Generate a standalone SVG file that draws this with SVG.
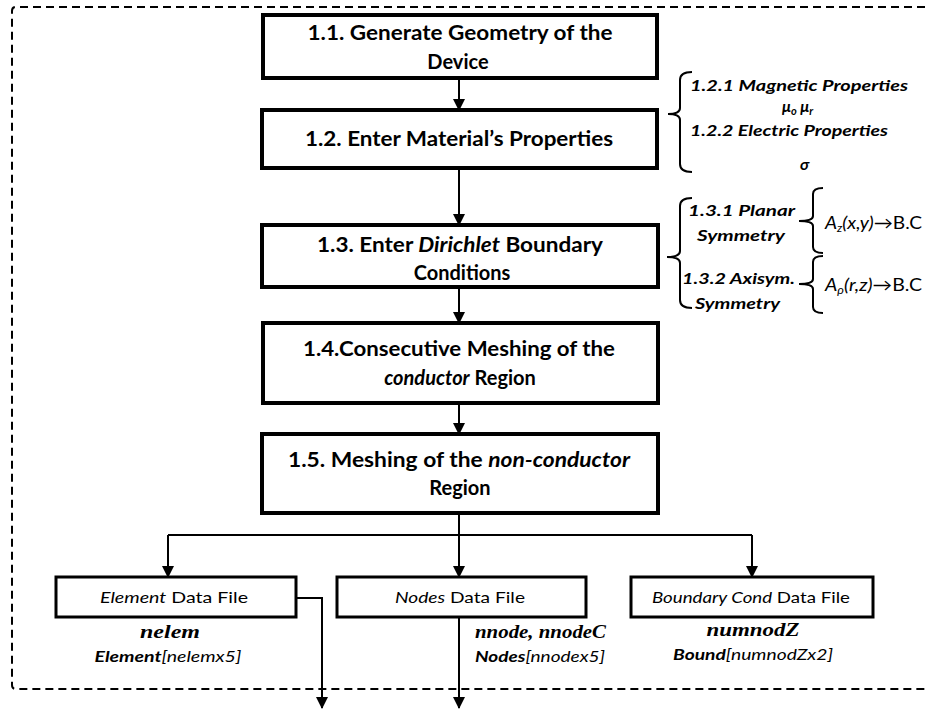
<svg xmlns="http://www.w3.org/2000/svg" width="925" height="711" viewBox="0 0 925 711">
<style>
.bx{fill:#fff;stroke:#000;stroke-width:4}
.sb{fill:#fff;stroke:#000;stroke-width:3}
.ln{fill:none;stroke:#000;stroke-width:2}
.br{fill:none;stroke:#000;stroke-width:2}
.t{font-family:Lato,"Liberation Sans",sans-serif;font-weight:bold;font-size:20px;text-anchor:middle;fill:#000}
.r{font-family:Lato,"Liberation Sans",sans-serif;font-weight:bold;font-style:italic;font-size:16px;fill:#000}
.s{font-family:Lato,"Liberation Sans",sans-serif;font-size:16px;text-anchor:middle;fill:#000}
.m{font-family:"Liberation Serif",serif;font-weight:bold;font-style:italic;font-size:18px;fill:#000}
.e{font-family:Lato,"Liberation Sans",sans-serif;font-size:15px;fill:#000}
.f{font-family:Lato,"Liberation Sans",sans-serif;font-size:17px;fill:#000}
.i{font-style:italic}
.b{font-weight:bold}
</style>
<defs>
<marker id="ah" markerUnits="userSpaceOnUse" markerWidth="12" markerHeight="12" refX="11" refY="6" orient="auto">
<path d="M0,0 L12,6 L0,12 z" fill="#000"/>
</marker>
</defs>
<path id="frame" d="M925,7 L16,7 Q12,7 12,11 L12,685 Q12,689 16,689 L925,689" fill="none" stroke="#000" stroke-width="2" stroke-dasharray="8 5"/>
<g id="connectors">
<path class="ln" d="M459,78 L459,110" marker-end="url(#ah)"/>
<path class="ln" d="M459,168 L459,225" marker-end="url(#ah)"/>
<path class="ln" d="M459,287 L459,323" marker-end="url(#ah)"/>
<path class="ln" d="M459,403 L459,434" marker-end="url(#ah)"/>
<path class="ln" d="M459,513 L459,577" marker-end="url(#ah)"/>
<path class="ln" d="M168,535 L752,535"/>
<path class="ln" d="M168,535 L168,577" marker-end="url(#ah)"/>
<path class="ln" d="M752,535 L752,577" marker-end="url(#ah)"/>
<path class="ln" d="M296,598 L322,598 L322,708" marker-end="url(#ah)"/>
<path class="ln" d="M459,617 L459,708" marker-end="url(#ah)"/>
</g>
<g id="n11">
<rect class="bx" x="263" y="15" width="394" height="63"/>
<text class="t" x="460" y="40" textLength="305" lengthAdjust="spacingAndGlyphs">1.1. Generate Geometry of the</text>
<text class="t" x="458" y="69">Device</text>
</g>
<g id="n12">
<rect class="bx" x="262" y="110" width="395" height="58"/>
<text class="t" x="459" y="146" textLength="308" lengthAdjust="spacingAndGlyphs">1.2. Enter Material’s Properties</text>
</g>
<g id="n13">
<rect class="bx" x="262" y="225" width="396" height="62"/>
<text class="t" x="460" y="252" textLength="286" lengthAdjust="spacingAndGlyphs">1.3. Enter <tspan class="i">Dirichlet</tspan> Boundary</text>
<text class="t" x="462" y="280">Conditions</text>
</g>
<g id="n14">
<rect class="bx" x="263" y="323" width="395" height="80"/>
<text class="t" x="459" y="356" textLength="312" lengthAdjust="spacingAndGlyphs">1.4.Consecutive Meshing of the</text>
<text class="t" x="460" y="385"><tspan class="i">conductor</tspan> Region</text>
</g>
<g id="n15">
<rect class="bx" x="262" y="434" width="396" height="79"/>
<text class="t" x="459" y="467" textLength="342" lengthAdjust="spacingAndGlyphs">1.5. Meshing of the <tspan class="i">non-conductor</tspan></text>
<text class="t" x="460" y="495">Region</text>
</g>
<g id="props">
<path class="br" d="M692,72 Q680,72 680,80 L680,108 Q680,114 668,114 Q680,114 680,120 L680,164 Q680,172 692,172"/>
<text class="r" x="690" y="91" textLength="218" lengthAdjust="spacingAndGlyphs">1.2.1 Magnetic Properties</text>
<text class="r" x="782" y="112">μ<tspan font-size="11" dy="3">o</tspan><tspan dy="-3"> μ</tspan><tspan font-size="11" dy="3">r</tspan></text>
<text class="r" x="690" y="136" textLength="198" lengthAdjust="spacingAndGlyphs">1.2.2 Electric Properties</text>
<text class="r" x="800" y="170">σ</text>
</g>
<g id="bc">
<path class="br" d="M692,198 Q680,198 680,206 L680,251 Q680,257 667,257 Q680,257 680,263 L680,300 Q680,308 692,308"/>
<text class="r" x="688" y="216" textLength="107" lengthAdjust="spacingAndGlyphs">1.3.1 Planar</text>
<text class="r" x="697" y="241" textLength="88" lengthAdjust="spacingAndGlyphs">Symmetry</text>
<text class="r" x="682" y="284" textLength="113" lengthAdjust="spacingAndGlyphs">1.3.2 Axisym.</text>
<text class="r" x="695" y="309" textLength="85" lengthAdjust="spacingAndGlyphs">Symmetry</text>
<path class="br" d="M823,188 Q813,188 813,194 L813,216 Q813,221 799,221 Q813,221 813,226 L813,247 Q813,253 823,253"/>
<path class="br" d="M823,256 Q813,256 813,262 L813,279 Q813,284 799,284 Q813,284 813,289 L813,307 Q813,313 823,313"/>
<text class="f" x="825" y="229" textLength="97" lengthAdjust="spacingAndGlyphs"><tspan class="i">A</tspan><tspan class="i" font-size="11" dy="3">z</tspan><tspan class="i" dy="-3">(x,y)</tspan>→B.C</text>
<text class="f" x="825" y="291" textLength="97" lengthAdjust="spacingAndGlyphs"><tspan class="i">A</tspan><tspan class="i" font-size="11" dy="3">ρ</tspan><tspan class="i" dy="-3">(r,z)</tspan>→B.C</text>
</g>
<g id="element">
<rect class="sb" x="56" y="577" width="240" height="40"/>
<text class="s" x="174" y="603" textLength="148" lengthAdjust="spacingAndGlyphs"><tspan class="i">Element</tspan> Data File</text>
<text class="m" x="170" y="638" text-anchor="middle" textLength="60" lengthAdjust="spacingAndGlyphs">nelem</text>
<text class="e" x="168" y="662" text-anchor="middle" textLength="147" lengthAdjust="spacingAndGlyphs"><tspan class="b i">Element</tspan><tspan class="i">[nelemx5]</tspan></text>
</g>
<g id="nodes">
<rect class="sb" x="337" y="577" width="249" height="40"/>
<text class="s" x="460" y="603" textLength="130" lengthAdjust="spacingAndGlyphs"><tspan class="i">Nodes</tspan> Data File</text>
<text class="m" x="475" y="638" textLength="131" lengthAdjust="spacingAndGlyphs">nnode, nnodeC</text>
<text class="e" x="475" y="662" textLength="130" lengthAdjust="spacingAndGlyphs"><tspan class="b i">Nodes</tspan><tspan class="i">[nnodex5]</tspan></text>
</g>
<g id="boundary">
<rect class="sb" x="631" y="577" width="242" height="40"/>
<text class="s" x="751" y="603" textLength="198" lengthAdjust="spacingAndGlyphs"><tspan class="i">Boundary Cond</tspan> Data File</text>
<text class="m" x="753" y="636" text-anchor="middle" textLength="93" lengthAdjust="spacingAndGlyphs">numnodZ</text>
<text class="e" x="753" y="660" text-anchor="middle" textLength="160" lengthAdjust="spacingAndGlyphs"><tspan class="b i">Bound</tspan><tspan class="i">[numnodZx2]</tspan></text>
</g>
</svg>
